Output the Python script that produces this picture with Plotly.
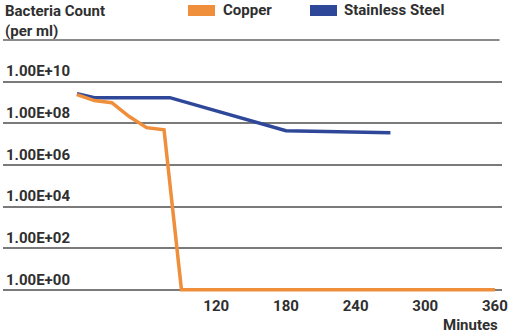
import plotly.graph_objects as go

# Data
copper_minutes = [0, 15, 30, 45, 60, 75, 90, 360]
copper_log = [9.38, 9.09, 8.99, 8.32, 7.79, 7.69, 0.0, 0.0]
steel_minutes = [0, 15, 80, 180, 270]
steel_log = [9.42, 9.23, 9.23, 7.64, 7.55]
x_ticks = [120, 180, 240, 300, 360]
y_tick_exps = [0, 2, 4, 6, 8, 10]
y_tick_labels = ["1.00E+00", "1.00E+02", "1.00E+04", "1.00E+06", "1.00E+08", "1.00E+10"]

ORANGE = "#EF8E3B"
BLUE = "#2E4799"
TEXT = "#2f2f2f"
GRID = "#7a7a7a"
FONT = "Roboto, sans-serif"
FS = 15

copper_vals = [10 ** v for v in copper_log]
steel_vals = [10 ** v for v in steel_log]

fig = go.Figure()
fig.add_trace(go.Scatter(x=steel_minutes, y=steel_vals, mode="lines", name="Stainless Steel",
                         line=dict(color=BLUE, width=3.5), showlegend=False))
fig.add_trace(go.Scatter(x=copper_minutes, y=copper_vals, mode="lines", name="Copper",
                         line=dict(color=ORANGE, width=3.5), showlegend=False))

fig.update_layout(
    width=510, height=336,
    margin=dict(l=3, r=8, t=40, b=41),
    plot_bgcolor="white", paper_bgcolor="white",
    font=dict(family=FONT, size=FS, color=TEXT),
    xaxis=dict(range=[-63.7, 366.1], tickvals=x_ticks, ticktext=[str(v) for v in x_ticks],
               showgrid=False, zeroline=False, showline=False, ticks="",
               tickfont=dict(family=FONT, size=FS, color=TEXT, weight="bold")),
    yaxis=dict(type="log", range=[-0.25, 12.0],
               tickvals=[10 ** e for e in y_tick_exps], ticktext=y_tick_labels,
               ticklabelposition="inside top", showgrid=True, gridcolor=GRID, gridwidth=2,
               zeroline=False, showline=False, ticks="",
               tickfont=dict(family=FONT, size=FS, color=TEXT, weight="bold")),
)

# top rule (1E+12 line under header)
fig.add_shape(type="line", xref="paper", yref="paper", x0=0, x1=0.995, y0=1, y1=1,
              line=dict(color="#8a8a8a", width=2), layer="below")

# header / legend
fig.add_annotation(xref="paper", yref="paper", x=-0.0, y=1.0, yshift=40, xanchor="left", yanchor="top",
                   text="<b>Bacteria Count</b><br><b>(per ml)</b>", align="left", showarrow=False,
                   font=dict(family=FONT, size=FS, color=TEXT))
fig.add_shape(type="rect", xref="paper", yref="paper", x0=(188 - 3) / 499, x1=(215 - 3) / 499,
              y0=(296 - 17) / 255, y1=(296 - 6) / 255,
              fillcolor=ORANGE, line=dict(width=0))
fig.add_shape(type="rect", xref="paper", yref="paper", x0=(310 - 3) / 499, x1=(337 - 3) / 499,
              y0=(296 - 17) / 255, y1=(296 - 6) / 255,
              fillcolor=BLUE, line=dict(width=0))
fig.add_annotation(xref="paper", yref="paper", x=(221 - 3) / 499, y=(296 - 11.5) / 255,
                   xanchor="left", yanchor="middle", text="<b>Copper</b>", showarrow=False,
                   font=dict(family=FONT, size=FS, color=TEXT))
fig.add_annotation(xref="paper", yref="paper", x=(342 - 3) / 499, y=(296 - 11.5) / 255,
                   xanchor="left", yanchor="middle", text="<b>Stainless Steel</b>", showarrow=False,
                   font=dict(family=FONT, size=FS, color=TEXT))
fig.add_annotation(xref="paper", yref="paper", x=0.995, y=0, yshift=-19, xanchor="right", yanchor="top",
                   text="<b>Minutes</b>", showarrow=False, font=dict(family=FONT, size=FS, color=TEXT))

fig.write_html("out.html")
